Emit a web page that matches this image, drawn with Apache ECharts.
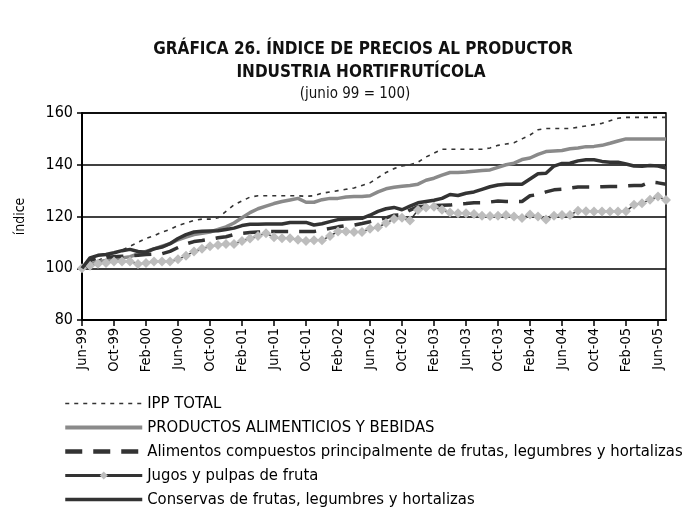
<!DOCTYPE html>
<html><head><meta charset="utf-8">
<script src="https://cdn.jsdelivr.net/npm/echarts@6/dist/echarts.min.js"></script>
<style>html,body{margin:0;padding:0;background:#fff}#c{width:682px;height:507px}</style>
</head><body><div id="c"></div>
<script>
const months = [
 'Jun-99','Jul-99','Aug-99','Sep-99','Oct-99','Nov-99','Dec-99','Jan-00','Feb-00','Mar-00','Apr-00','May-00',
 'Jun-00','Jul-00','Aug-00','Sep-00','Oct-00','Nov-00','Dec-00','Jan-01','Feb-01','Mar-01','Apr-01','May-01',
 'Jun-01','Jul-01','Aug-01','Sep-01','Oct-01','Nov-01','Dec-01','Jan-02','Feb-02','Mar-02','Apr-02','May-02',
 'Jun-02','Jul-02','Aug-02','Sep-02','Oct-02','Nov-02','Dec-02','Jan-03','Feb-03','Mar-03','Apr-03','May-03',
 'Jun-03','Jul-03','Aug-03','Sep-03','Oct-03','Nov-03','Dec-03','Jan-04','Feb-04','Mar-04','Apr-04','May-04',
 'Jun-04','Jul-04','Aug-04','Sep-04','Oct-04','Nov-04','Dec-04','Jan-05','Feb-05','Mar-05','Apr-05','May-05',
 'Jun-05','Jul-05'];

const ippTotal = [100,101.5,103,104.5,105.5,107,108.5,110,111.5,112.5,114,115,
 116.5,117.5,118.5,119,119,119.5,122,124.5,126,127.5,128,128,
 128,128,128,128,127.8,128,129,129.5,130,130.5,131,132,
 133,135,137,138.5,139.5,140,141,143,144.5,146,146,146,
 146,146,146,146.5,147.5,148,148.5,150,151.5,153.5,154,154,
 154,154,154.5,155,155.5,156,157,158,158.3,158.3,158.3,158.3,
 158.3,158.3];

const productosAlim = [100,101.5,102.5,103,103.5,104,104.5,105.5,106.5,107.5,108.5,109.5,
 111,112,113,113.5,114,115,116,117.5,119.5,121.5,123,124,
 125,125.8,126.4,127,125.5,125.5,126.5,127,127,127.5,127.7,127.7,
 128,129.5,130.7,131.3,131.7,132,132.5,134,134.8,136,137,137,
 137.2,137.5,137.8,138,139,140,140.6,142,142.6,144,145.1,145.3,
 145.5,146.2,146.5,147,147.1,147.5,148.3,149.2,150,150,150,150,
 150,150];

const alimentosComp = [100,103,104,104.2,104.4,104.6,104.8,105,105.3,105.5,105.6,106.5,
 108,109.4,110.3,110.7,111.2,111.8,112.2,113,113.5,113.8,114,114.2,
 114.2,114.2,114.2,114.2,114.2,114.2,114.8,115.4,116,116.5,116.7,117.3,
 118,118.8,119.5,120.5,120.6,122.5,123.8,124,124.2,124.3,124.4,124.8,
 125,125.3,125.3,125.6,126,125.8,125.8,125.8,128,128.5,129.5,130.3,
 130.5,131,131.4,131.4,131.4,131.5,131.6,131.6,131.8,132,132,133.3,
 133,132.5];

const jugosPulpas = [100,101,101.7,102,102.6,102.6,102.6,101.6,102,102.6,102.6,102.6,
 103.5,104.8,106.5,107.5,108.5,109,109.4,109.4,110.5,111.5,112.5,113.5,
 112,111.6,111.6,111,110.5,110.8,110.8,112.5,114.2,114.2,114,114,
 115.3,115.8,117.5,119,119.5,118.5,122.5,123.5,123.8,122.6,121.5,121.3,
 121.3,121,120.3,120.2,120.3,120.6,120,119.4,120.8,120,118.8,120.3,
 120.6,120.6,122.2,122,121.9,121.9,121.9,121.9,122,124.5,125.1,126.5,
 127.7,126.4];

const conservas = [100,104,105,105.3,106,106.8,107.3,106.5,106.2,107.5,108.2,109.5,
 111.5,113,114,114.3,114.4,114.5,115,115.5,116.5,117,117,117.1,
 117.1,117.1,117.7,117.7,117.7,116.7,117.2,118,118.8,119,119.2,119.3,
 120.5,122,123,123.5,122.6,124,125.3,125.8,126.3,127,128.5,128.1,
 129,129.5,130.5,131.5,132.2,132.5,132.5,132.5,134.5,136.5,136.7,139.5,
 140.5,140.6,141.5,141.9,141.9,141.3,141,141,140.3,139.5,139.4,139.7,
 139.5,138.7];

const seriesNames = ['IPP TOTAL','PRODUCTOS ALIMENTICIOS Y BEBIDAS',
 'Alimentos compuestos principalmente de frutas, legumbres y hortalizas',
 'Jugos y pulpas de fruta','Conservas de frutas, legumbres y hortalizas'];
const yTicks = {min:80, max:160, step:20};
const titleLines = ['GRÁFICA 26. ÍNDICE DE PRECIOS AL PRODUCTOR','INDUSTRIA HORTIFRUTÍCOLA','(junio 99 = 100)'];
const yAxisName = 'índice';

const FONT = "'Liberation Sans Narrow','Arial Narrow','DejaVu Sans Condensed',sans-serif";
const hidden = {opacity:0};

const chart = echarts.init(document.getElementById('c'), null, {renderer:'canvas'});
chart.setOption({
  animation:false,
  backgroundColor:'#fff',
  textStyle:{fontFamily:FONT, color:'#000'},
  title:[
    {text:titleLines[0], left:358, top:36, textAlign:'center', textStyle:{fontFamily:FONT, fontSize:17, fontWeight:'bold', color:'#111'}},
    {text:titleLines[1], left:356, top:59, textAlign:'center', textStyle:{fontFamily:FONT, fontSize:17, fontWeight:'bold', color:'#111'}},
    {text:titleLines[2], left:350, top:82, textAlign:'center', textStyle:{fontFamily:FONT, fontSize:15, fontWeight:'normal', color:'#111'}}
  ],
  grid:{left:82, right:16, top:113, bottom:187, show:true, borderColor:'#000', borderWidth:1.5, containLabel:false},
  legend:{
    orient:'vertical', left:63, top:395, height:200, itemWidth:77, itemHeight:10, itemGap:7, padding:0,
    textStyle:{fontFamily:FONT, fontSize:16.5, color:'#000'},
    data:[
      {name:seriesNames[0], itemStyle:hidden, lineStyle:{width:1.6}},
      {name:seriesNames[1], itemStyle:hidden, lineStyle:{width:4}},
      {name:seriesNames[2], itemStyle:hidden, lineStyle:{width:4.5}},
      {name:seriesNames[3], lineStyle:{width:3}},
      {name:seriesNames[4], itemStyle:hidden, lineStyle:{width:3.5}}
    ]
  },
  xAxis:{
    type:'category', data:months, boundaryGap:false,
    axisLine:{lineStyle:{color:'#000', width:2}},
    axisTick:{show:true, interval:3, length:6, lineStyle:{color:'#000', width:1.5}},
    axisLabel:{interval:3, rotate:90, fontFamily:FONT, fontSize:14.5, color:'#000', margin:8},
    splitLine:{show:false}
  },
  yAxis:{
    type:'value', min:yTicks.min, max:yTicks.max, interval:yTicks.step,
    name:yAxisName, nameLocation:'middle', nameGap:55, nameRotate:90,
    nameTextStyle:{fontFamily:FONT, fontSize:14, color:'#000'},
    axisLine:{show:true, lineStyle:{color:'#000', width:2}},
    axisTick:{show:true, length:5, lineStyle:{color:'#000', width:1.5}},
    axisLabel:{fontFamily:FONT, fontSize:16, color:'#000', margin:9},
    splitLine:{show:true, lineStyle:{color:'#000', width:1.5}}
  },
  series:[
    {name:seriesNames[0], type:'line', data:ippTotal, symbol:'none', z:2,
     lineStyle:{color:'#333', width:1.6, type:[4,5]}, itemStyle:{color:'#333'}},
    {name:seriesNames[1], type:'line', data:productosAlim, symbol:'none', z:3,
     lineStyle:{color:'#8a8a8a', width:3.5}, itemStyle:{color:'#8a8a8a'}},
    {name:seriesNames[2], type:'line', data:alimentosComp, symbol:'none', z:4,
     lineStyle:{color:'#333', width:3.5, type:[17,11]}, itemStyle:{color:'#333'}},
    {name:seriesNames[3], type:'line', data:jugosPulpas, symbol:'diamond', symbolSize:10, showSymbol:true, showAllSymbol:true, z:5,
     lineStyle:{color:'#333', width:1.5}, itemStyle:{color:'#bdbdbd', borderWidth:0}},
    {name:seriesNames[4], type:'line', data:conservas, symbol:'none', z:6,
     lineStyle:{color:'#333', width:3.5}, itemStyle:{color:'#333'}}
  ]
});
</script>
</body></html>
